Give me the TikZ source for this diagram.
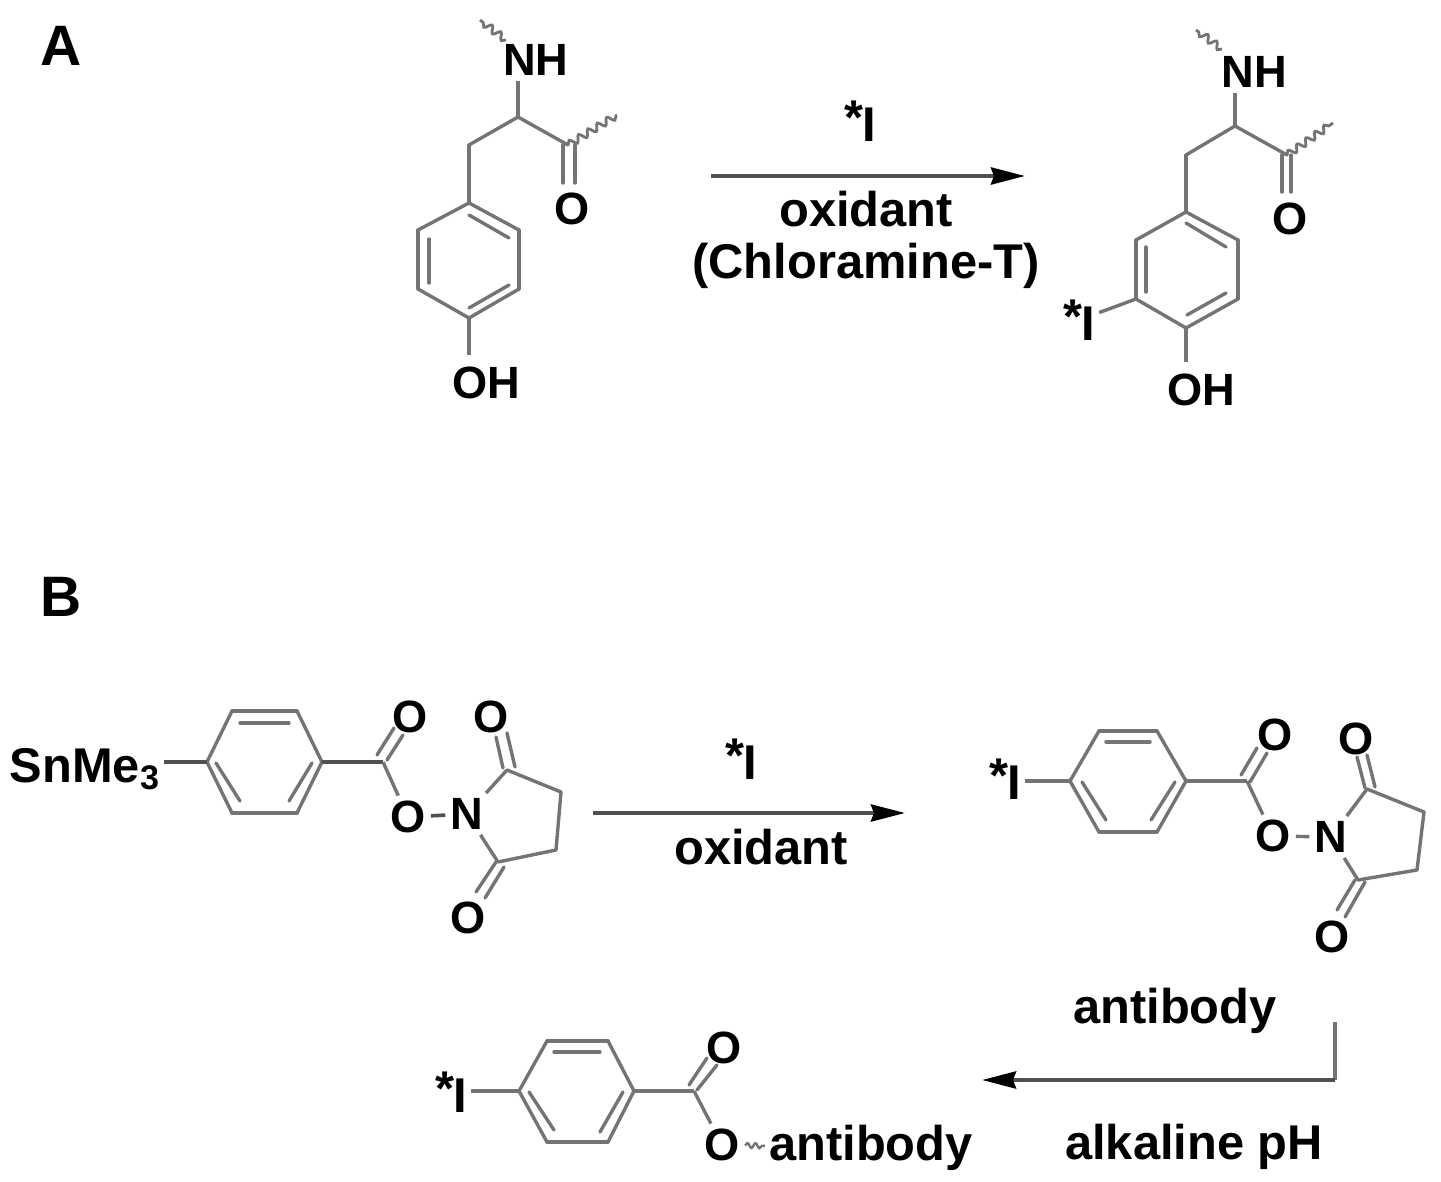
\documentclass[tikz,border=0pt]{standalone}
\usepackage{fontspec}
\setmainfont{Liberation Sans}
\usetikzlibrary{arrows.meta,decorations.pathmorphing}
\definecolor{bondgray}{HTML}{747474}
\definecolor{arrowgray}{HTML}{505050}
\newcommand{\starI}{\raisebox{3.5pt}{*}\kern-0.5pt I}
\tikzset{
    atom/.style={
        inner sep=2.5pt,
        font=\fontsize{22.6}{24}\selectfont\bfseries },
    reagent/.style={
        inner sep=2pt,
        font=\fontsize{24.4}{28}\selectfont\bfseries },
    panel/.style={
        inner sep=0pt,
        font=\fontsize{28.5}{30}\selectfont\bfseries },
    bond/.style={
        bondgray,
        line width=1.7pt },
    darkbond/.style={
        arrowgray,
        line width=1.8pt },
    wavy/.style={
        bondgray,
        line width=1.4pt,
        decorate,
        decoration={snake,segment length=5.5pt,amplitude=1.7pt} },
    react/.style={
        arrowgray,
        line width=2pt,
        -{Stealth[length=17pt,width=8.5pt,inset=1.5pt,black]} } }

\begin{document}
\begin{tikzpicture}[x=0.5pt,y=-0.5pt]
\useasboundingbox (0,0) rectangle (1441,1182);

\node[panel] (A) at (61,46) {A};
\node[panel] (B) at (61,597) {B};

% tyrosine
\foreach \n/\x/\y in {
    a1/469/203, a2/519/230, a3/519/289, a4/469/318, a5/418/289, a6/418/230,
    a7/469/145, a8/518/117, a9/568/145,
    a21/469/215, a22/509/238, a61/429/239, a51/429/283, a41/469/308, a31/509/285,
    a91/563/145, a92/563/183, a93/575/145, a94/575/183,
    a95/617/115, a96/506/40, a97/480/20}
    \coordinate (\n) at (\x,\y);

\node[atom] (a_NH) at (536,60) {NH};
\node[atom] (a_O) at (572,209) {O};
\node[atom,inner sep=6pt] (a_OH) at (486,383) {OH};

\foreach \p/\q in {a1/a2, a2/a3, a3/a4, a4/a5, a5/a6, a6/a1, a1/a7, a7/a8, a8/a9,
    a21/a22, a61/a51, a41/a31, a91/a92, a93/a94}
    \draw[bond,line cap=round] (\p) -- (\q);
\draw[bond] (a8) -- (a8 |- a_NH.south);
\draw[bond] (a4) -- (a4 |- a_OH.north);
\draw[wavy] (a9) -- (a95);
\draw[wavy] (a96) -- (a97);

% iodinated tyrosine
\foreach \n/\x/\y in {
    c1/1186/212, c2/1238/240, c3/1238/299, c4/1186/328, c5/1136/299, c6/1136/240,
    c7/1186/155, c8/1235/126, c9/1287/155,
    c21/1186/223, c22/1226/247, c61/1146/247, c51/1146/292, c41/1187/315, c31/1226/293,
    c91/1282/155, c92/1282/192, c93/1291/155, c94/1291/192,
    c95/1333/123, c96/1222/49, c97/1196/30}
    \coordinate (\n) at (\x,\y);

\node[atom] (c_NH) at (1254,72) {NH};
\node[atom] (c_O) at (1290,219) {O};
\node[atom,inner sep=6pt] (c_OH) at (1201,390) {OH};
\node[reagent] (c_I) at (1079,320) {\starI};

\foreach \p/\q in {c1/c2, c2/c3, c3/c4, c4/c5, c5/c6, c6/c1, c1/c7, c7/c8, c8/c9,
    c21/c22, c61/c51, c41/c31, c91/c92, c93/c94}
    \draw[bond,line cap=round] (\p) -- (\q);
\draw[bond] (c8) -- (c8 |- c_NH.south);
\draw[bond] (c4) -- (c4 |- c_OH.north);
\draw[bond] (c5) -- (c_I);
\draw[wavy] (c9) -- (c95);
\draw[wavy] (c96) -- (c97);

\coordinate (r1s) at (711,176);
\coordinate (r1e) at (1025,176);
\draw[react] (r1s) -- (r1e);
\node[reagent] (r1_I) at (860,121) {\starI};
\node[reagent] (r1_ox) at (866,209) {oxidant};
\node[reagent] (r1_cl) at (866,266) {(Chloramine-T)};

% tin ester
\foreach \n/\x/\y in {
    d1/207/762, d2/232/711, d3/297/711, d4/322/762, d5/297/813, d6/232/813,
    d21/240/723, d31/289/723, d11/216/763, d61/240/801, d51/289/801, d41/312/763,
    d7/383/762, d71/377/755, d72/394/728, d73/387/760, d74/403/735,
    d8/507/770, d9/561/792, d10/556/850, d12/498/862,
    d81/496/737, d82/503/768, d83/507/733, d84/515/767,
    d121/476/892, d122/496/862, d123/485/898, d124/504/867}
    \coordinate (\n) at (\x,\y);

\node[reagent] (d_Sn) at (85,769) {SnMe\textsubscript{3}};
\node[atom] (d_O1) at (410,717) {O};
\node[atom] (d_O2) at (408,817) {O};
\node[atom] (d_N) at (467,814) {N};
\node[atom] (d_O3) at (491,717) {O};
\node[atom] (d_O4) at (468,918) {O};

\foreach \p/\q in {d1/d2, d2/d3, d3/d4, d4/d5, d5/d6, d6/d1,
    d21/d31, d11/d61, d51/d41, d71/d72, d73/d74,
    d8/d9, d9/d10, d10/d12, d81/d82, d83/d84, d121/d122, d123/d124}
    \draw[bond,line cap=round] (\p) -- (\q);
\draw[darkbond] (d_Sn.east |- d1) -- (d1);
\draw[darkbond] (d4) -- (d7);
\draw[bond] (d7) -- (d_O2);
\draw[darkbond] (d_O2) -- (d_N);
\draw[bond] (d_N) -- (d8);
\draw[bond] (d_N) -- (d12);

\coordinate (r2s) at (593,813);
\coordinate (r2e) at (905,813);
\draw[react] (r2s) -- (r2e);
\node[reagent] (r2_I) at (741,759) {\starI};
\node[reagent] (r2_ox) at (761,847) {oxidant};

% iodo ester
\foreach \n/\x/\y in {
    e1/1070/781, e2/1099/731, e3/1157/731, e4/1186/781, e5/1157/832, e6/1099/832,
    e21/1106/742, e31/1150/742, e11/1082/782, e61/1106/820, e51/1151/820, e41/1175/782,
    e7/1247/781, e71/1241/775, e72/1257/748, e73/1250/782, e74/1267/753,
    e8/1367/789, e9/1424/812, e10/1417/870, e12/1358/880,
    e81/1357/757, e82/1365/788, e83/1367/755, e84/1375/787,
    e121/1337/910, e122/1355/880, e123/1345/917, e124/1365/882}
    \coordinate (\n) at (\x,\y);

\node[reagent] (e_I) at (1005,779) {\starI};
\node[atom] (e_O1) at (1275,735) {O};
\node[atom] (e_O2) at (1273,836) {O};
\node[atom] (e_N) at (1331,837) {N};
\node[atom] (e_O3) at (1356,739) {O};
\node[atom] (e_O4) at (1332,937) {O};

\foreach \p/\q in {e1/e2, e2/e3, e3/e4, e4/e5, e5/e6, e6/e1,
    e21/e31, e11/e61, e51/e41, e71/e72, e73/e74,
    e8/e9, e9/e10, e10/e12, e81/e82, e83/e84, e121/e122, e123/e124}
    \draw[bond,line cap=round] (\p) -- (\q);
\draw[bond] (e_I.east |- e1) -- (e1);
\draw[bond] (e4) -- (e7);
\draw[bond] (e7) -- (e_O2);
\draw[bond] (e_O2) -- (e_N);
\draw[bond] (e_N) -- (e8);
\draw[bond] (e_N) -- (e12);

\coordinate (r3s) at (1335,1022);
\coordinate (r3c) at (1335,1080);
\coordinate (r3e) at (982,1080);
\draw[bond] (r3s) -- (r3c);
\draw[react] (r3c) -- (r3e);
\node[reagent] (r3_ab) at (1175,1011) {antibody};
\node[reagent] (r3_ph) at (1194,1147) {alkaline pH};

% labelled antibody
\foreach \n/\x/\y in {
    f1/519/1091, f2/547/1041, f3/608/1041, f4/634/1091, f5/608/1142, f6/547/1142,
    f21/554/1052, f31/600/1052, f11/529/1092, f61/554/1130, f51/600/1132, f41/623/1092,
    f7/694/1091, f71/689/1085, f72/707/1058, f73/697/1090, f74/717/1065}
    \coordinate (\n) at (\x,\y);

\node[reagent] (f_I) at (451,1092) {\starI};
\node[atom] (f_O1) at (724,1048) {O};
\node[atom] (f_O2) at (722,1145) {O};
\node[reagent] (f_ab) at (871,1148) {antibody};

\foreach \p/\q in {f1/f2, f2/f3, f3/f4, f4/f5, f5/f6, f6/f1,
    f21/f31, f11/f61, f51/f41, f71/f72, f73/f74}
    \draw[bond,line cap=round] (\p) -- (\q);
\draw[bond] (f_I.east |- f1) -- (f1);
\draw[bond] (f4) -- (f7);
\draw[bond] (f7) -- (f_O2);
\draw[wavy,line width=1.2pt,decoration={snake,segment length=4pt,amplitude=1.2pt}] (f_O2) -- (f_ab);

\end{tikzpicture}
\end{document}
